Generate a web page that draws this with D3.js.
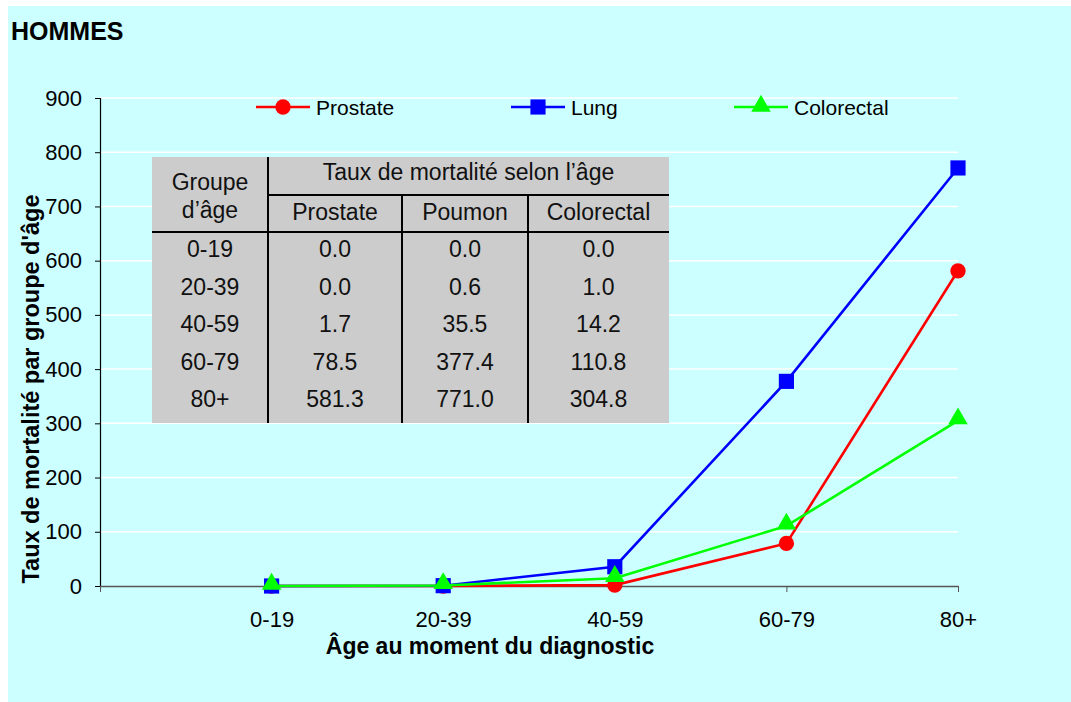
<!DOCTYPE html>
<html>
<head>
<meta charset="utf-8">
<script src="https://cdn.jsdelivr.net/npm/d3@7"></script>
<style>
  body { margin: 0; background: #fff; }
  svg { display: block; font-family: Arial, "Liberation Sans", sans-serif; }
</style>
</head>
<body>
<svg id="chart" width="1071" height="702"></svg>
<script>
// data
const ageGroups = ["0-19", "20-39", "40-59", "60-79", "80+"];
const prostate = [0.0, 0.0, 1.7, 78.5, 581.3];
const lung = [0.0, 0.6, 35.5, 377.4, 771.0];
const colorectal = [0.0, 1.0, 14.2, 110.8, 304.8];
const yTicks = [0, 100, 200, 300, 400, 500, 600, 700, 800, 900];
const tableHeader = "Taux de mortalité selon l’âge";
const tableCols = ["Prostate", "Poumon", "Colorectal"];

const series = [
  { name: "Prostate", values: prostate, color: "#ff0000", shape: "circle" },
  { name: "Lung", values: lung, color: "#0000ff", shape: "square" },
  { name: "Colorectal", values: colorectal, color: "#00ff00", shape: "triangle" },
];

const font = "Arial, 'Liberation Sans', sans-serif";
const svg = d3.select("#chart");
svg.append("rect").attr("x", 8).attr("y", 6).attr("width", 1063).attr("height", 696).attr("fill", "#ccffff");

svg.append("text").attr("x", 11).attr("y", 40).attr("font-size", 25).attr("font-weight", "bold").text("HOMMES");

// scales: empty slot before the first group, as in the original
const x = d3.scalePoint().domain(["", ...ageGroups]).range([100, 958]);
const y = d3.scaleLinear().domain([0, 900]).range([586, 98]);

// gridlines
svg.append("g").selectAll("line").data(yTicks.filter((d) => d > 0)).join("line")
  .attr("x1", 100).attr("x2", 958)
  .attr("y1", (d) => y(d)).attr("y2", (d) => y(d))
  .attr("stroke", "#fff").attr("stroke-width", 1.5);

// y axis
const yAxis = svg.append("g").attr("transform", "translate(100,0)")
  .call(d3.axisLeft(y).tickValues(yTicks).tickSize(5).tickPadding(13));
yAxis.select(".domain").attr("stroke", "#000").attr("stroke-width", 1.2);
yAxis.selectAll(".tick line").attr("stroke", "#000");
yAxis.selectAll("text").attr("font-size", 22).attr("font-family", font);

// x axis
const xAxis = svg.append("g").attr("transform", "translate(0,586)")
  .call(d3.axisBottom(x).tickSize(6).tickSizeOuter(0).tickPadding(19));
xAxis.select(".domain").attr("stroke", "#555").attr("stroke-width", 1.5);
xAxis.selectAll(".tick line").attr("stroke", "#555");
xAxis.selectAll("text").attr("font-size", 22).attr("font-family", font);

svg.append("text").attr("x", 490).attr("y", 654).attr("text-anchor", "middle")
  .attr("font-size", 23).attr("font-weight", "bold").text("Âge au moment du diagnostic");
svg.append("text").attr("transform", "translate(39,389) rotate(-90)").attr("text-anchor", "middle")
  .attr("font-size", 23.5).attr("font-weight", "bold").text("Taux de mortalité par groupe d'âge");

// table
const tbl = svg.append("g");
const tx0 = 152, tx1 = 669, ty0 = 157, ty1 = 423;
const colX = [268, 402, 528];
tbl.append("rect").attr("x", tx0).attr("y", ty0).attr("width", tx1 - tx0).attr("height", ty1 - ty0).attr("fill", "#cccccc");
const lineStyle = (s) => s.attr("stroke", "#000").attr("stroke-width", 2);
tbl.append("line").attr("x1", colX[0]).attr("x2", colX[0]).attr("y1", ty0).attr("y2", ty1).call(lineStyle);
colX.slice(1).forEach((cx) => tbl.append("line").attr("x1", cx).attr("x2", cx).attr("y1", 195).attr("y2", ty1).call(lineStyle));
tbl.append("line").attr("x1", colX[0]).attr("x2", tx1).attr("y1", 195).attr("y2", 195).call(lineStyle);
tbl.append("line").attr("x1", tx0).attr("x2", tx1).attr("y1", 232).attr("y2", 232).call(lineStyle);

const cell = (cx, cy, t) => tbl.append("text").attr("x", cx).attr("y", cy).attr("text-anchor", "middle")
  .attr("dominant-baseline", "central").attr("font-size", 23).attr("fill", "#111").text(t);
cell((tx0 + colX[0]) / 2, 182, "Groupe");
cell((tx0 + colX[0]) / 2, 210, "d’âge");
cell((colX[0] + tx1) / 2, 172, tableHeader);
const centers = [(colX[0] + colX[1]) / 2, (colX[1] + colX[2]) / 2, (colX[2] + tx1) / 2];
tableCols.forEach((c, i) => cell(centers[i], 212, c));
ageGroups.forEach((g, r) => {
  const cy = 249 + r * 37.6;
  cell((tx0 + colX[0]) / 2, cy, g);
  series.forEach((s, i) => cell(centers[i], cy, s.values[r].toFixed(1)));
});

// markers
const symbolFor = { circle: d3.symbolCircle, square: d3.symbolSquare, triangle: d3.symbolTriangle };
const sizeFor = { circle: 185, square: 230, triangle: 165 };
const line = d3.line().x((d, i) => x(ageGroups[i])).y((d) => y(d));

series.forEach((s) => {
  const g = svg.append("g");
  g.append("path").attr("d", line(s.values)).attr("fill", "none").attr("stroke", s.color).attr("stroke-width", 2.6);
  g.selectAll("path.m").data(s.values).join("path").attr("class", "m")
    .attr("transform", (d, i) => `translate(${x(ageGroups[i])},${y(d) - (s.shape === "triangle" ? 2 : 0)})`)
    .attr("d", d3.symbol(symbolFor[s.shape], sizeFor[s.shape]))
    .attr("fill", s.color);
});

// legend
const legendX = [256, 511, 734];
series.forEach((s, i) => {
  const g = svg.append("g").attr("transform", `translate(${legendX[i]},107)`);
  g.append("line").attr("x1", 0).attr("x2", 54).attr("stroke", s.color).attr("stroke-width", 2.6);
  g.append("path").attr("transform", `translate(27,${s.shape === "triangle" ? -1 : 0})`)
    .attr("d", d3.symbol(symbolFor[s.shape], sizeFor[s.shape])).attr("fill", s.color);
  g.append("text").attr("x", 60).attr("y", 0).attr("dominant-baseline", "central").attr("font-size", 21).text(s.name);
});
</script>
</body>
</html>
